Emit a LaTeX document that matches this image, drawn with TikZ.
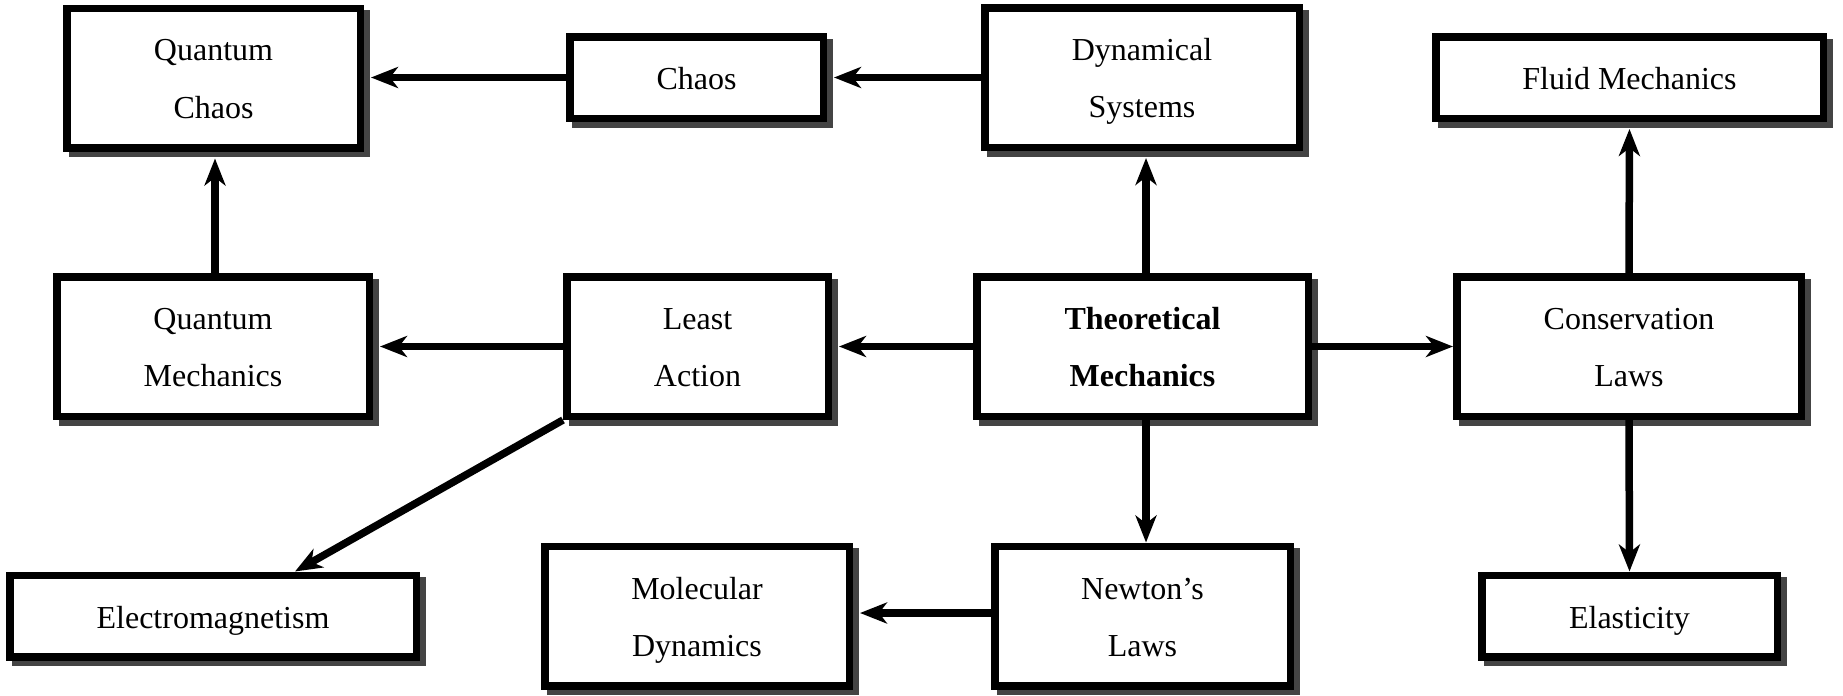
\documentclass[tikz,border=0pt]{standalone}
\usepackage{fontspec}
\setmainfont{Liberation Serif}
\usetikzlibrary{arrows.meta,backgrounds,calc}
\definecolor{shadowgray}{HTML}{444444}
\newcommand{\twolines}[2]{\rule{0pt}{11.5pt}#1\\\raisebox{0pt}[\height][0pt]{#2}}
\begin{document}
\begin{tikzpicture}[x=0.5pt,y=-0.5pt,
  box/.style={draw=black, line width=3.75pt, fill=white, inner sep=0pt, align=center,
     font=\fontsize{16}{28.5}\selectfont},
  tall/.style={box, minimum height=69.75pt},
  short/.style={box, minimum height=40.75pt, text height=12pt, text depth=0pt},
  arr/.style={line width=3.75pt, -{Stealth[length=13.5pt,width=10.5pt,inset=4pt]}},
  gap/.style={shorten >=3.5pt},
]
\useasboundingbox (0,0) rectangle (1843,696);
% top row
\node[tall, minimum width=146.75pt] (qc) at (213.5,78) {\twolines{Quantum}{Chaos}};
\node[short, minimum width=126.75pt] (chaos) at (696.5,77.5) {Chaos};
\node[tall, minimum width=157.25pt] (dyn) at (1142,77.5) {\twolines{Dynamical}{Systems}};
\node[short, minimum width=193.75pt] (fluid) at (1629.5,77.5) {Fluid Mechanics};
% middle row
\node[tall, minimum width=156.25pt] (qm) at (213,346.5) {\twolines{Quantum}{Mechanics}};
\node[tall, minimum width=130.75pt] (la) at (697.5,346.5) {\twolines{Least}{Action}};
\node[tall, minimum width=165.75pt] (tm) at (1142.5,346.5) {\twolines{\bfseries Theoretical}{\bfseries Mechanics}};
\node[tall, minimum width=172.25pt] (cl) at (1629,346.5) {\twolines{Conservation}{Laws}};
% bottom row
\node[short, minimum width=203.25pt] (em) at (213,616) {Electromagnetism};
\node[tall, minimum width=152.25pt] (md) at (697,616) {\twolines{Molecular}{Dynamics}};
\node[tall, minimum width=147.75pt] (nl) at (1142.5,616) {\twolines{Newton’s}{Laws}};
\node[short, minimum width=147.75pt] (el) at (1629.5,616) {Elasticity};
% shadows
\begin{scope}[on background layer]
\foreach \n in {qc,chaos,dyn,fluid,qm,la,tm,cl,em,md,nl,el}{
  \fill[shadowgray] ([shift={(5.5,5.5)}]\n.south west) rectangle ([shift={(5.5,5.5)}]\n.north east);
}
\end{scope}
% connectors
\draw[arr,gap] (chaos.west) -- (qc.east |- chaos.west);
\draw[arr,gap] (dyn.west) -- (chaos.east |- dyn.west);
\draw[arr,gap] ([xshift=1pt]qm.north) -- ([xshift=1pt]qm.north |- qc.south);
\draw[arr,gap] (la.west) -- (qm.east |- la.west);
\draw[arr,gap] (tm.west) -- (la.east |- tm.west);
\draw[arr] (tm.east) -- (cl.west);
\draw[arr,gap] ([xshift=1.75pt]tm.north) -- ([xshift=1.75pt]tm.north |- dyn.south);
\draw[arr] ([xshift=1.75pt]tm.south) -- ([xshift=1.75pt]tm.south |- nl.north);
\draw[arr,gap] ([yshift=1.5pt]nl.west) -- ([yshift=1.5pt]nl.west -| md.east);
\draw[arr,gap] (cl.north) -- (fluid.south);
\draw[arr] (cl.south) -- (el.north);
\draw[arr] (la.south west) -- ($(em.north)+(82,0)$);
\end{tikzpicture}
\end{document}
